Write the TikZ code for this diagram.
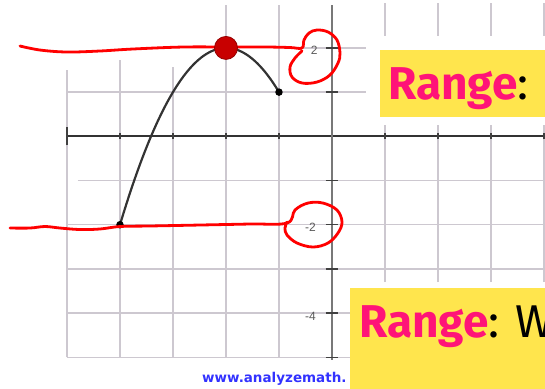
\documentclass[tikz,border=0pt]{standalone}
\usepackage{fontspec}
\setsansfont{Liberation Sans}
\newfontfamily\rangefont{Fira Sans}
\newfontfamily\urlfont{DejaVu Sans}
\usepackage{xcolor}
\usepackage{tikz}

\definecolor{gridgray}{RGB}{205,200,208}
\definecolor{axisgray}{RGB}{120,120,120}
\definecolor{penred}{RGB}{255,0,0}
\definecolor{dotred}{RGB}{200,0,0}
\definecolor{dotrim}{RGB}{150,0,0}
\definecolor{boxyellow}{RGB}{255,229,77}
\definecolor{rangepink}{RGB}{255,20,120}
\definecolor{urlblue}{RGB}{50,50,255}

\begin{document}
\begin{tikzpicture}[
    x=53pt, y=44.2pt,
    gridline/.style={draw=gridgray, line width=1.4pt},
    xaxis/.style={draw=black!80, line width=1.8pt},
    yaxis/.style={draw=axisgray, line width=2.6pt},
    tickmark/.style={draw=black!75, line width=1.4pt},
    curve/.style={draw=black!80, line width=2.2pt},
    redpen/.style={draw=penred, line width=2.8pt, line cap=round, line join=round},
    enddot/.style={circle, fill=black, inner sep=0pt, minimum size=7.5pt},
    topdot/.style={circle, fill=dotred, draw=dotrim, line width=0.8pt, inner sep=0pt, minimum size=23pt},
    ticklabel/.style={font=\sffamily\fontsize{12}{12}\selectfont, text=black!65, inner sep=0pt, anchor=east},
    rangebox/.style={fill=boxyellow},
    rangetext/.style={font=\rangefont\fontsize{46}{46}\selectfont, inner sep=0pt, anchor=base west},
]

% cropped screenshot frame
\useasboundingbox (-6.264,-5.695) rectangle (4.019,3.084);
\clip (-6.264,-5.695) rectangle (4.019,3.084);

% grid
\foreach \gx/\gtop in {-5/1.5, -4/1.73, -3/1.57, -2/2.97, -1/2.97}
    \draw[gridline] (\gx,-5) -- (\gx,\gtop);
\foreach \gx in {1,...,4} {
    \draw[gridline] (\gx,-3.3) -- (\gx,0.26);
    \draw[gridline] (\gx,2.28) -- (\gx,3.02);
}
\draw[gridline] (-0.6,2) -- (0.65,2);
\draw[gridline] (-5,1) -- (0.65,1);
\draw[gridline] (-4.8,-1) -- (4.02,-1);
\foreach \gy in {-5,...,-2}
    \draw[gridline] (-5,\gy) -- (4.02,\gy);

% axes and ticks
\draw[xaxis] (-5,0) -- (4.02,0);
\draw[tickmark] (-5,-0.2) -- (-5,0.2);
\foreach \tx in {-4,...,-1,1,2,3,4}
    \draw[tickmark] (\tx,-0.07) -- (\tx,0.07);
\draw[yaxis] (0,-5.05) -- (0,2.97);
\foreach \ty in {-5,...,-1,1,2}
    \draw[tickmark] (-0.12,\ty) -- (0.12,\ty);

\node[ticklabel] (labtwo) at (-0.27,1.94) {2};
\node[ticklabel] (labmtwo) at (-0.3,-2.05) {-2};
\node[ticklabel] (labmfour) at (-0.3,-4.07) {-4};

% graph of the function
\draw[curve] plot[domain=-4:-1, samples=60, smooth] (\x,{2-(\x+2)^2});
\node[enddot] (leftend) at (-4,-2) {};
\node[enddot] (rightend) at (-1,1) {};

% hand drawn marks
\draw[redpen] plot[smooth, tension=0.6] coordinates {
    (-5.887,2.043) (-5.509,1.952) (-5.0,1.907) (-4.377,1.930) (-3.755,1.975)
    (-2.811,2.020) (-1.962,2.020) (-1.226,2.020) (-0.792,2.009) (-0.566,1.998)
    (-0.528,2.179) (-0.434,2.337) (-0.283,2.405) (-0.075,2.360) (0.094,2.179)
    (0.151,1.884) (0.113,1.658) (-0.038,1.387) (-0.283,1.228) (-0.566,1.206)
    (-0.755,1.342) (-0.792,1.568) (-0.698,1.771) (-0.566,1.930)};
\draw[redpen] plot[smooth, tension=0.6] coordinates {
    (-6.075,-2.075) (-5.698,-2.075) (-5.415,-2.041) (-5.132,-2.075) (-4.755,-2.109)
    (-4.377,-2.097) (-4.0,-2.041) (-3.434,-2.029) (-2.491,-2.007) (-1.547,-1.984)
    (-0.849,-1.962) (-0.698,-1.668) (-0.453,-1.510) (-0.170,-1.510) (0.094,-1.668)
    (0.189,-1.939) (0.113,-2.188) (-0.075,-2.414) (-0.358,-2.505) (-0.660,-2.414)
    (-0.849,-2.233) (-0.887,-2.075) (-0.849,-1.939)};
\node[topdot] (vertex) at (-2,2) {};

\node[font=\urlfont\bfseries\fontsize{13.5}{13.5}\selectfont, text=urlblue,
      anchor=base west, inner sep=0pt] (url) at (-2.453,-5.581) {www.analyzemath.};

% range boxes
\fill[rangebox] (0.906,0.437) rectangle (4.1,1.952);
\node[rangetext] (rangeone) at (1.057,0.824) {\textcolor{rangepink}{\bfseries Range}:};
\fill[rangebox] (0.34,-5.8) rectangle (4.1,-3.432);
\node[rangetext] (rangetwo) at (0.509,-4.541) {\textcolor{rangepink}{\bfseries Range}: W};

\end{tikzpicture}
\end{document}
